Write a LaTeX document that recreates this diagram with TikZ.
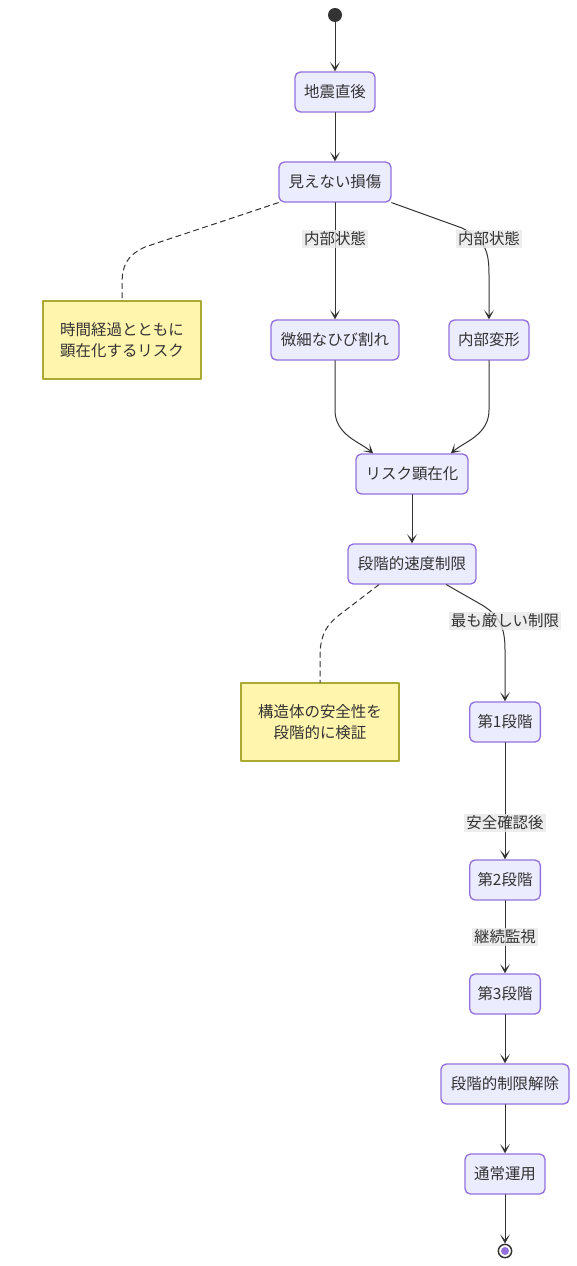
\documentclass[tikz,border=0pt]{standalone}
\usepackage{fontspec}
\setmainfont{Noto Sans CJK JP}
\usetikzlibrary{arrows.meta}
\definecolor{statefill}{HTML}{ECECFF}
\definecolor{stateline}{HTML}{9370DB}
\definecolor{notefill}{HTML}{FFF5AD}
\definecolor{noteline}{HTML}{AAAA33}
\definecolor{edgeline}{HTML}{333333}
\definecolor{lblfill}{HTML}{E8E8E8}
\begin{document}
\begin{tikzpicture}[x=0.75pt,y=-0.75pt,>={Stealth[length=7pt,width=7.5pt,inset=4pt]},
    line join=round,line cap=round,font=\fontsize{11.6pt}{16pt}\selectfont,text=edgeline,
    state/.style={draw=stateline,fill=statefill,line width=1pt,rounded corners=4pt,minimum height=30pt,inner sep=0pt},
    note/.style={draw=noteline,fill=notefill,line width=1pt,minimum width=118.5pt,minimum height=58.5pt,align=center,inner sep=0pt},
    lbl/.style={fill=lblfill,fill opacity=.8,text opacity=1,inner sep=1.5pt},
    edge/.style={draw=edgeline,line width=.75pt},
    link/.style={edge,dashed,dash pattern=on 4pt off 3pt}]
    \useasboundingbox (0,0) rectangle (577,1266);
    % states
    \node[circle,fill=edgeline,minimum size=10.5pt,inner sep=0pt] (start) at (335,15) {};
    \node[state,minimum width=60pt] (quake) at (335,92) {地震直後};
    \node[state,minimum width=84pt] (damage) at (335,182) {見えない損傷};
    \node[state,minimum width=96pt] (crack) at (335,340) {微細なひび割れ};
    \node[state,minimum width=60pt] (deform) at (489,340) {内部変形};
    \node[state,minimum width=84pt] (risk) at (412,474) {リスク顕在化};
    \node[state,minimum width=96pt] (limit) at (412,564) {段階的速度制限};
    \node[state,minimum width=53pt] (stage1) at (505,722) {第1段階};
    \node[state,minimum width=53pt] (stage2) at (505,880) {第2段階};
    \node[state,minimum width=53pt] (stage3) at (505,994) {第3段階};
    \node[state,minimum width=96pt] (release) at (505,1084) {段階的制限解除};
    \node[state,minimum width=60pt] (normal) at (505,1174) {通常運用};
    \node[circle,draw=edgeline,line width=1.1pt,fill=white,minimum size=10pt,inner sep=0pt] (stop) at (505,1251) {};
    \fill[stateline] (stop) circle (3pt);
    % notes
    \node[note] (note1) at (122,340) {時間経過とともに\\顕在化するリスク};
    \node[note] (note2) at (320,722) {構造体の安全性を\\段階的に検証};
    % transitions
    \draw[edge,->] (start) -- (quake);
    \draw[edge,->] (quake) -- (damage);
    \draw[edge,->] (damage) -- (crack);
    \draw[edge,->] (damage.south east) -- (462,228) .. controls (485,240) and (489,250) .. (489,275) -- (deform);
    \draw[edge,->] (crack) -- (335,410) .. controls (335,435) and (360,442) .. (risk.152);
    \draw[edge,->] (deform) -- (489,410) .. controls (489,435) and (464,442) .. (risk.28);
    \draw[edge,->] (risk) -- (limit);
    \draw[edge,->] (limit.-31) -- (482,605) .. controls (500,616) and (505,628) .. (505,650) -- (stage1);
    \draw[edge,->] (stage1) -- (stage2);
    \draw[edge,->] (stage2) -- (stage3);
    \draw[edge,->] (stage3) -- (release);
    \draw[edge,->] (release) -- (normal);
    \draw[edge,->] (normal) -- (stop);
    \draw[link] (damage.south west) -- (145,247) .. controls (126,256) and (122,266) .. (122,285) -- (note1);
    \draw[link] (limit.212) -- (338,616) .. controls (323,628) and (320,640) .. (320,658) -- (note2);
    % labels
    \node[lbl] (lbl1) at (335,239) {内部状態};
    \node[lbl] (lbl2) at (489,239) {内部状態};
    \node[lbl] (lbl3) at (505,621) {最も厳しい制限};
    \node[lbl] (lbl4) at (505,823) {安全確認後};
    \node[lbl] (lbl5) at (505,937) {継続監視};
\end{tikzpicture}
\end{document}
